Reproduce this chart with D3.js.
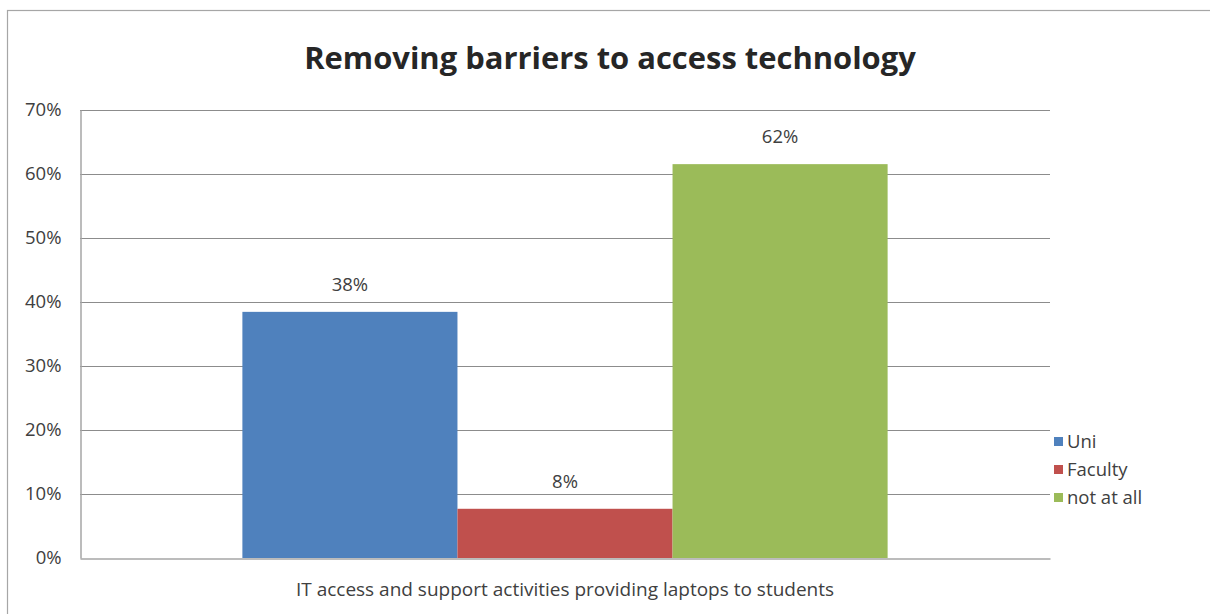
<!DOCTYPE html>
<html>
<head>
<meta charset="utf-8">
<script src="https://cdn.jsdelivr.net/npm/d3@7"></script>
<style>
  body { margin: 0; background: #fff; }
  text { font-family: "Open Sans", "DejaVu Sans", sans-serif; }
</style>
</head>
<body>
<div id="chart"></div>
<script>
// Data
const categories = ["IT access and support activities providing laptops to students"];
const seriesNames = ["Uni", "Faculty", "not at all"];
const seriesValues = [0.3846, 0.0769, 0.6154];
const dataLabels = ["38%", "8%", "62%"];
const yTicks = [0, 0.1, 0.2, 0.3, 0.4, 0.5, 0.6, 0.7];
const colors = ["#4F81BD", "#C0504D", "#9BBB59"];

const W = 1210, H = 614;
const plot = { left: 80, right: 1050, top: 110, bottom: 558 };
const labelSize = "18.5px";

const svg = d3.select("#chart")
    .append("svg")
    .attr("width", W)
    .attr("height", H);

// outer chart border
svg.append("rect")
    .attr("x", 7.5).attr("y", 10.5)
    .attr("width", W).attr("height", H)
    .attr("fill", "#fff")
    .attr("stroke", "#a6a6a6")
    .attr("stroke-width", 1.2);

// fit a text element to a target width
function fitWidth(sel, target) {
    const node = sel.node();
    const size = parseFloat(sel.style("font-size"));
    const w = node.getComputedTextLength();
    sel.style("font-size", (size * target / w) + "px");
}

// Title
const title = svg.append("text")
    .attr("x", 610)
    .attr("y", 69)
    .attr("text-anchor", "middle")
    .style("font-size", "26px")
    .style("font-weight", "bold")
    .attr("fill", "#262626")
    .text("Removing barriers to access technology");
fitWidth(title, 612);

// Scales
const y = d3.scaleLinear()
    .domain([0, 0.7])
    .range([plot.bottom, plot.top]);

const x0 = d3.scaleBand()
    .domain(categories)
    .range([plot.left, plot.right]);

const x1 = d3.scaleBand()
    .domain(seriesNames)
    .range([0, x0.bandwidth()])
    .paddingInner(0)
    .paddingOuter(0.755);

// Gridlines
svg.append("g")
    .selectAll("line")
    .data(yTicks.filter(d => d > 0))
    .join("line")
    .attr("x1", plot.left)
    .attr("x2", plot.right)
    .attr("y1", d => Math.round(y(d)) + 0.5)
    .attr("y2", d => Math.round(y(d)) + 0.5)
    .attr("stroke", "#8c8c8c")
    .attr("stroke-width", 1);

// Y axis
const yAxis = svg.append("g")
    .attr("transform", `translate(${plot.left + 0.5},0)`)
    .call(d3.axisLeft(y)
        .tickValues(yTicks)
        .tickSize(0)
        .tickPadding(19)
        .tickFormat(d3.format(".0%")));
yAxis.select(".domain").attr("stroke", "#a6a6a6").attr("stroke-width", 1.5);
yAxis.selectAll("text")
    .style("font-family", "\"Open Sans\", sans-serif")
    .style("font-size", labelSize)
    .attr("fill", "#404040");

// Bars
const cat = categories[0];
svg.append("g")
    .selectAll("rect")
    .data(seriesNames)
    .join("rect")
    .attr("x", (d, i) => x0(cat) + x1(d))
    .attr("y", (d, i) => y(seriesValues[i]))
    .attr("width", x1.bandwidth())
    .attr("height", (d, i) => plot.bottom - y(seriesValues[i]))
    .attr("fill", (d, i) => colors[i]);

// X axis
const xAxis = svg.append("g")
    .attr("transform", `translate(0,${plot.bottom + 0.5})`)
    .call(d3.axisBottom(x0).tickSize(0).tickPadding(24));
xAxis.select(".domain").attr("stroke", "#a6a6a6").attr("stroke-width", 1.5);
xAxis.selectAll("text")
    .style("font-family", "\"Open Sans\", sans-serif")
    .style("font-size", "19px")
    .attr("fill", "#404040");

// Data labels
svg.append("g")
    .selectAll("text")
    .data(seriesNames)
    .join("text")
    .attr("x", d => x0(cat) + x1(d) + x1.bandwidth() / 2)
    .attr("y", (d, i) => y(seriesValues[i]) - 21)
    .attr("text-anchor", "middle")
    .style("font-size", labelSize)
    .attr("fill", "#404040")
    .text((d, i) => dataLabels[i]);

// Legend
const legend = svg.append("g")
    .selectAll("g")
    .data(seriesNames)
    .join("g")
    .attr("transform", (d, i) => `translate(1054,${437 + i * 28})`);

legend.append("rect")
    .attr("width", 9)
    .attr("height", 9)
    .attr("fill", (d, i) => colors[i]);

legend.append("text")
    .attr("x", 13)
    .attr("y", 4.5)
    .attr("dy", "0.35em")
    .style("font-size", labelSize)
    .attr("fill", "#404040")
    .text(d => d);
</script>
</body>
</html>
